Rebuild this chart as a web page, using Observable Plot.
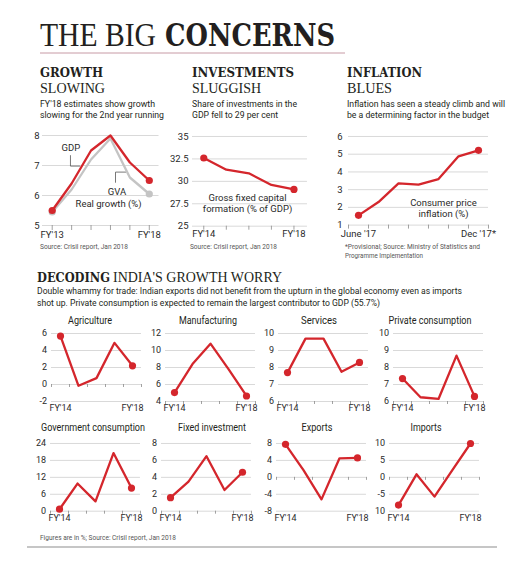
<!DOCTYPE html>
<html><head><meta charset="utf-8">
<script src="https://cdn.jsdelivr.net/npm/d3@7"></script>
<script src="https://cdn.jsdelivr.net/npm/@observablehq/plot@0.6"></script>
<style>
html,body{margin:0;padding:0;background:#fff;}
body{width:529px;height:563px;position:relative;overflow:hidden;font-family:Roboto,sans-serif;color:#231f20;}
svg.overlay{position:absolute;left:0;top:0;}
</style></head>
<body>
<script>
// ---------- DATA ----------
const growthYears = ["FY'13","FY'14","FY'15","FY'16","FY'17","FY'18"];
const gdpGrowth = [5.5, 6.4, 7.5, 8.0, 7.1, 6.5];
const gvaGrowth = [5.45, 6.2, 7.2, 7.9, 6.6, 6.05];
const growthTicks = [5, 6, 7, 8];

const investYears = ["FY'14","FY'15","FY'16","FY'17","FY'18"];
const gfcfShare = [32.6, 31.3, 30.9, 29.6, 29.1];
const investTicks = [25, 27.5, 30, 32.5, 35];

const inflationMonths = ["June '17","Jul '17","Aug '17","Sep '17","Oct '17","Nov '17","Dec '17*"];
const cpiInflation = [1.55, 2.3, 3.35, 3.28, 3.6, 4.88, 5.22];
const inflationTicks = [1, 2, 3, 4, 5, 6];

const panelYears = ["FY'14","FY'15","FY'16","FY'17","FY'18"];
const agriculture = [5.7, -0.15, 0.75, 4.9, 2.2];
const manufacturing = [5.05, 8.4, 10.8, 7.8, 4.65];
const services = [7.7, 9.7, 9.7, 7.75, 8.3];
const privateConsumption = [7.35, 6.25, 6.15, 8.7, 6.3];
const govConsumption = [0.7, 9.8, 3.5, 20.6, 8.2];
const fixedInvestment = [1.6, 3.5, 6.5, 2.5, 4.6];
const exportsGrowth = [7.8, 1.7, -5.2, 4.5, 4.6];
const importsGrowth = [-8.2, 0.9, -5.7, 2.2, 10.0];

const agriTicks = [-2, 0, 2, 4, 6];
const manufTicks = [4, 6, 8, 10, 12];
const servTicks = [6, 7, 8, 9, 10];
const privTicks = [6, 7, 8, 9, 10];
const govTicks = [0, 6, 12, 18, 24];
const fixedTicks = [0, 2, 4, 6, 8];
const exportTicks = [-8, -4, 0, 4, 8];
const importTicks = [-10, -5, 0, 5, 10];
const importTickLabels = ["10", "-5", "0", "5", "10"];

const panelTitles = ["Agriculture","Manufacturing","Services","Private consumption",
                     "Government consumption","Fixed investment","Exports","Imports"];

// ---------- HELPERS ----------
const RED = "#d4262c";
const GRAY_LINE = "#c4c4c4";
const GRID = "#cfcfcf";

function place(svg, left, top) {
  svg.style.position = "absolute";
  svg.style.left = left + "px";
  svg.style.top = top + "px";
  svg.style.overflow = "visible";
  document.body.appendChild(svg);
}

function chart(o) {
  const ml = 34, mr = 14, mt = 8, mb = 20;
  const n = o.series[0].values.length;
  const W = (o.r - o.l) + ml + mr, H = (o.b - o.t) + mt + mb;
  const yLabels = o.yLabels || o.yTicks.map(String);
  const marks = [
    Plot.ruleY(o.yTicks, {stroke: GRID, strokeWidth: 0.8}),
    Plot.axisY({ticks: o.yTicks, tickSize: 0, tickPadding: o.yPad, label: null,
      fontSize: o.fs, tickFormat: d => yLabels[o.yTicks.indexOf(d)]}),
    Plot.ruleX(o.tickXs, {x: d => d, y1: o.tickBase, y2: o.tickBase, insetBottom: -o.tickLen, stroke: "#8a8a8a", strokeWidth: 0.8}),
    Plot.axisX({ticks: [0, n - 1], tickSize: 0, tickPadding: o.xPad, label: null,
      fontSize: o.fs, tickFormat: i => o.xLabels[i]}),
    ...(o.extra || [])
  ];
  for (const s of o.series) {
    const pts = s.values.map((v, i) => ({i, v}));
    marks.push(Plot.line(pts, {x: "i", y: "v", stroke: s.color, strokeWidth: 2.3, strokeLinejoin: "round"}));
    marks.push(Plot.dot([pts[0], pts[n - 1]], {x: "i", y: "v", r: o.r0 || 3.6, fill: s.color}));
  }
  const svg = Plot.plot({
    width: W, height: H, marginLeft: ml, marginRight: mr, marginTop: mt, marginBottom: mb,
    x: {type: "linear", domain: o.xDomain},
    y: {type: "linear", domain: [o.yTicks[0], o.yTicks[o.yTicks.length - 1]]},
    style: {fontFamily: "Roboto, sans-serif", color: "#2a2a2a", background: "transparent", overflow: "visible"},
    marks
  });
  place(svg, o.l - ml, o.t - mt);
}

// ---------- TOP CHARTS ----------
chart({
  l: 42, r: 158.5, t: 135, b: 225, xDomain: [-0.5, 5.5],
  yTicks: growthTicks, yPad: 3, fs: 9.5, xLabels: growthYears, xPad: 5.5,
  tickXs: d3.range(growthYears.length), tickBase: 5, tickLen: 5,
  series: [{values: gvaGrowth, color: GRAY_LINE}, {values: gdpGrowth, color: RED}],
  extra: [
    Plot.line([[0.94, 7.33], [0.94, 6.98], [1.41, 6.98]], {stroke: "#555", strokeWidth: 0.8}),
    Plot.line([[3.26, 6.44], [3.26, 6.78], [3.78, 6.78]], {stroke: "#555", strokeWidth: 0.8}),
    Plot.text([{x: 0.96, y: 7.57, t: "GDP"}, {x: 3.34, y: 6.13, t: "GVA"}, {x: 2.9, y: 5.73, t: "Real growth (%)"}],
      {x: "x", y: "y", text: "t", fontSize: 9.5, fill: "#2a2a2a"})
  ]
});

chart({
  l: 192, r: 307, t: 136, b: 225.7, xDomain: [-0.5, 4.6],
  yTicks: investTicks, yPad: 4, fs: 9.5, xLabels: investYears, xPad: 4.5,
  tickXs: d3.range(investYears.length), tickBase: 25, tickLen: 4,
  series: [{values: gfcfShare, color: RED}],
  extra: [
    Plot.text([{x: 1.94, y: 27.55, t: "Gross fixed capital\nformation (% of GDP)"}],
      {x: "x", y: "y", text: "t", fontSize: 9.5, lineHeight: 1.08, fill: "#2a2a2a"})
  ]
});

chart({
  l: 348, r: 488, t: 135.7, b: 224.3, xDomain: [-0.5, 6.5],
  yTicks: inflationTicks, yPad: 6, fs: 9.5, xLabels: inflationMonths, xPad: 5,
  tickXs: d3.range(-0.5, 7, 1), tickBase: 1, tickLen: 4,
  series: [{values: cpiInflation, color: RED}],
  extra: [
    Plot.text([{x: 4.25, y: 1.95, t: "Consumer price\ninflation (%)"}],
      {x: "x", y: "y", text: "t", fontSize: 9.5, lineHeight: 1.08, fill: "#2a2a2a"})
  ]
});

// ---------- SMALL MULTIPLES ----------
const panels = [
  {values: agriculture, ticks: agriTicks, base: 0, l: 51, row: 0},
  {values: manufacturing, ticks: manufTicks, base: 4, l: 165, row: 0},
  {values: services, ticks: servTicks, base: 6, l: 278, row: 0},
  {values: privateConsumption, ticks: privTicks, base: 6, l: 393, row: 0},
  {values: govConsumption, ticks: govTicks, base: 0, l: 50, row: 1},
  {values: fixedInvestment, ticks: fixedTicks, base: 0, l: 161, row: 1},
  {values: exportsGrowth, ticks: exportTicks, base: 0, l: 276, row: 1},
  {values: importsGrowth, ticks: importTicks, base: 0, l: 389, row: 1, labels: importTickLabels}
];
const rowT = [332.7, 443.3], rowB = [400.7, 511];
for (const p of panels) {
  chart({
    l: p.l, r: p.l + 90, t: rowT[p.row], b: rowB[p.row], xDomain: [-0.5, 4.5],
    yTicks: p.ticks, yLabels: p.labels || p.ticks.map(String), yPad: 4.5, fs: 9,
    xLabels: panelYears, xPad: 3, tickXs: d3.range(-0.5, 5, 1), tickBase: p.base, tickLen: 3,
    series: [{values: p.values, color: RED}]
  });
}

// ---------- TEXT OVERLAY ----------
const NS = "http://www.w3.org/2000/svg";
const ov = document.createElementNS(NS, "svg");
ov.setAttribute("class", "overlay");
ov.setAttribute("width", 529); ov.setAttribute("height", 563);
document.body.appendChild(ov);
function T(str, x, y, opt = {}) {
  const t = document.createElementNS(NS, "text");
  t.textContent = str;
  t.setAttribute("x", x); t.setAttribute("y", y);
  t.setAttribute("font-family", opt.ff || "Roboto, sans-serif");
  t.setAttribute("font-size", opt.fs || 9);
  t.setAttribute("font-weight", opt.fw || "normal");
  t.setAttribute("fill", opt.fill || "#231f20");
  if (opt.anchor) t.setAttribute("text-anchor", opt.anchor);
  if (opt.len) { t.setAttribute("textLength", opt.len); t.setAttribute("lengthAdjust", "spacingAndGlyphs"); }
  ov.appendChild(t);
}
function L(x1, y1, x2, y2, stroke, w) {
  const l = document.createElementNS(NS, "line");
  l.setAttribute("x1", x1); l.setAttribute("y1", y1); l.setAttribute("x2", x2); l.setAttribute("y2", y2);
  l.setAttribute("stroke", stroke); l.setAttribute("stroke-width", w);
  ov.appendChild(l);
}
const SERIF_LIGHT = "'Liberation Serif', serif";
const SERIF_BOLD = "'DejaVu Serif', serif";

T("THE BIG", 40, 46, {ff: SERIF_LIGHT, fs: 34, len: 116});
T("CONCERNS", 165, 46, {ff: SERIF_BOLD, fs: 31, fw: "bold", len: 170});
L(40, 53, 345, 53, "#c79aa5", 1);

T("GROWTH", 40, 77.3, {ff: SERIF_BOLD, fs: 12.8, fw: "bold", len: 63});
T("SLOWING", 40, 93, {ff: SERIF_LIGHT, fs: 14, len: 65});
T("FY'18 estimates show growth", 40, 106.7, {fs: 9.4, len: 115});
T("slowing for the 2nd year running", 40, 118.3, {fs: 9.4, len: 124});
T("Source: Crisil report, Jan 2018", 40, 248.5, {fs: 7.4, fill: "#555", len: 88});

T("INVESTMENTS", 192, 77.3, {ff: SERIF_BOLD, fs: 12.8, fw: "bold", len: 102});
T("SLUGGISH", 192, 93, {ff: SERIF_LIGHT, fs: 14, len: 69});
T("Share of investments in the", 192, 106.7, {fs: 9.4, len: 105});
T("GDP fell to 29 per cent", 192, 118.3, {fs: 9.4, len: 86});
T("Source: Crisil report, Jan 2018", 190, 248.5, {fs: 7.4, fill: "#555", len: 87});

T("INFLATION", 347, 77.3, {ff: SERIF_BOLD, fs: 12.8, fw: "bold", len: 75});
T("BLUES", 347, 93, {ff: SERIF_LIGHT, fs: 14, len: 45});
T("Inflation has seen a steady climb and will", 347, 106.7, {fs: 9.4, len: 158});
T("be a determining factor in the budget", 347, 118.3, {fs: 9.4, len: 142});
T("*Provisional; Source: Ministry of Statistics and", 345, 249, {fs: 7.4, fill: "#555", len: 135});
T("Programme Implementation", 345, 257.5, {fs: 7.4, fill: "#555", len: 78});

T("DECODING", 37, 281.6, {ff: SERIF_BOLD, fs: 12.8, fw: "bold", len: 73});
T("INDIA'S GROWTH WORRY", 113, 281.6, {ff: SERIF_LIGHT, fs: 14, len: 169});
T("Double whammy for trade: Indian exports did not benefit from the upturn in the global economy even as imports", 37, 294.3, {fs: 9.2, len: 425});
T("shot up. Private consumption is expected to remain the largest contributor to GDP (55.7%)", 37, 305.7, {fs: 9.2, len: 343});

const titleX = [90, 208, 319, 430, 93, 212, 317, 426];
const titleLen = [44, 58, 36, 83, 104, 68, 31, 31];
panelTitles.forEach((s, i) => {
  T(s, titleX[i] - titleLen[i] / 2, i < 4 ? 324 : 431, {fs: 10, len: titleLen[i]});
});

T("Figures are in %; Source: Crisil report, Jan 2018", 40, 540, {fs: 7.2, fill: "#555", len: 136});
L(27, 547, 497, 547, "#8d8d8d", 1);
</script>
</body></html>
